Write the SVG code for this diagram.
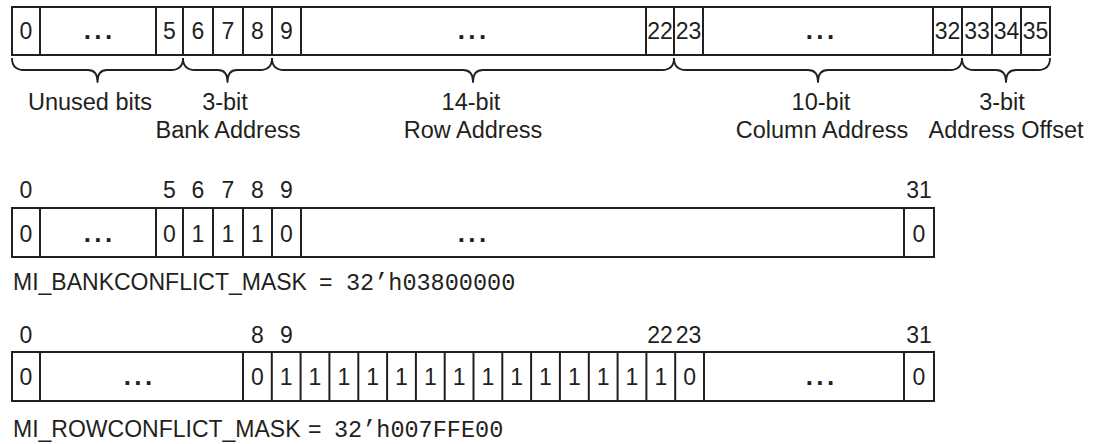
<svg xmlns="http://www.w3.org/2000/svg" width="1096" height="444" viewBox="0 0 1096 444">
<style>
.box{fill:#fff;stroke:#231f20;stroke-width:2}
.div{stroke:#231f20;stroke-width:2}
.brace{fill:none;stroke:#231f20;stroke-width:1.8;stroke-linejoin:round}
text{font-family:"Liberation Sans",Arial,sans-serif;fill:#231f20}
.c{font-size:23px;text-anchor:middle}
.d{font-size:26px;font-weight:bold;text-anchor:middle;letter-spacing:3.4px}
.l{font-size:23.5px;text-anchor:middle}
.m{font-size:23px}
.mono{font-family:"Liberation Mono","Courier New",monospace;font-size:23.5px}
</style>
<rect width="1096" height="444" fill="#fff"/>

<g id="address-register">
<rect class="box" x="12" y="7" width="1038" height="48"/>
<path class="div" d="M40 7V55M156 7V55M183 7V55M213 7V55M243 7V55M272 7V55M301 7V55M646 7V55M674 7V55M703 7V55M933 7V55M962 7V55M992 7V55M1021 7V55"/>
<text class="c" x="26" y="39">0</text>
<text class="d" x="99.7" y="39">...</text>
<text class="c" x="169.5" y="39">5</text>
<text class="c" x="198" y="39">6</text>
<text class="c" x="228" y="39">7</text>
<text class="c" x="257.5" y="39">8</text>
<text class="c" x="286.5" y="39">9</text>
<text class="d" x="473.7" y="39">...</text>
<text class="c" x="660" y="39">22</text>
<text class="c" x="688.5" y="39">23</text>
<text class="d" x="821.7" y="39">...</text>
<text class="c" x="947.5" y="39">32</text>
<text class="c" x="977" y="39">33</text>
<text class="c" x="1006.5" y="39">34</text>
<text class="c" x="1035.5" y="39">35</text>
</g>

<g id="braces">
<path class="brace" d="M12 58C12 66 16 70 24 70L88 70C94 70 97.5 74 97.5 82C97.5 74 101 70 107 70L171 70C179 70 183 66 183 58"/>
<path class="brace" d="M183 58C183 66 187 70 195 70L218 70C224 70 227.5 74 227.5 82C227.5 74 231 70 237 70L260 70C268 70 272 66 272 58"/>
<path class="brace" d="M272 58C272 66 276 70 284 70L463 70C469 70 473 74 473 82C473 74 477 70 483 70L662 70C670 70 674 66 674 58"/>
<path class="brace" d="M674 58C674 66 678 70 686 70L808 70C814 70 818 74 818 82C818 74 822 70 828 70L950 70C958 70 962 66 962 58"/>
<path class="brace" d="M962 58C962 66 966 70 974 70L996 70C1002 70 1006 74 1006 82C1006 74 1010 70 1016 70L1038 70C1046 70 1050 66 1050 58"/>
</g>

<g id="field-labels">
<text class="l" x="90" y="110">Unused bits</text>
<text class="l" x="225" y="110">3-bit</text>
<text class="l" x="228" y="138">Bank Address</text>
<text class="l" x="471" y="110">14-bit</text>
<text class="l" x="473" y="138">Row Address</text>
<text class="l" x="821" y="110">10-bit</text>
<text class="l" x="822" y="138">Column Address</text>
<text class="l" x="1002" y="110">3-bit</text>
<text class="l" x="1006" y="138">Address Offset</text>
</g>

<g id="bank-mask">
<text class="c" x="26" y="198">0</text>
<text class="c" x="169.5" y="198">5</text>
<text class="c" x="198" y="198">6</text>
<text class="c" x="228" y="198">7</text>
<text class="c" x="257.5" y="198">8</text>
<text class="c" x="286.5" y="198">9</text>
<text class="c" x="919" y="198">31</text>
<rect class="box" x="12" y="208" width="922" height="49"/>
<path class="div" d="M40 208V257M156 208V257M183 208V257M213 208V257M243 208V257M272 208V257M301 208V257M904 208V257"/>
<text class="c" x="26" y="242">0</text>
<text class="d" x="99.7" y="242">...</text>
<text class="c" x="169.5" y="242">0</text>
<text class="c" x="198" y="242">1</text>
<text class="c" x="228" y="242">1</text>
<text class="c" x="257.5" y="242">1</text>
<text class="c" x="286.5" y="242">0</text>
<text class="d" x="473.7" y="242">...</text>
<text class="c" x="919" y="242">0</text>
<text class="m" x="13" y="290">MI_BANKCONFLICT_MASK</text>
<text class="m" x="319" y="290">=</text>
<text class="mono" x="346" y="290">32’h03800000</text>
</g>

<g id="row-mask">
<text class="c" x="26" y="343">0</text>
<text class="c" x="257.5" y="343">8</text>
<text class="c" x="286.5" y="343">9</text>
<text class="c" x="660" y="343">22</text>
<text class="c" x="688.5" y="343">23</text>
<text class="c" x="919" y="343">31</text>
<rect class="box" x="12" y="352" width="922" height="49"/>
<path class="div" d="M40 352V401M243 352V401M271.8 352V401M300.6 352V401M329.4 352V401M358.3 352V401M387.1 352V401M415.9 352V401M444.7 352V401M473.5 352V401M502.3 352V401M531.1 352V401M559.9 352V401M588.8 352V401M617.6 352V401M646.4 352V401M675.2 352V401M704 352V401M904 352V401"/>
<text class="c" x="26" y="385">0</text>
<text class="d" x="139.7" y="385">...</text>
<text class="c" x="257.4" y="385">0</text>
<text class="c" x="286.2" y="385">1</text>
<text class="c" x="315" y="385">1</text>
<text class="c" x="343.9" y="385">1</text>
<text class="c" x="372.7" y="385">1</text>
<text class="c" x="401.5" y="385">1</text>
<text class="c" x="430.3" y="385">1</text>
<text class="c" x="459.1" y="385">1</text>
<text class="c" x="487.9" y="385">1</text>
<text class="c" x="516.7" y="385">1</text>
<text class="c" x="545.5" y="385">1</text>
<text class="c" x="574.4" y="385">1</text>
<text class="c" x="603.2" y="385">1</text>
<text class="c" x="632" y="385">1</text>
<text class="c" x="660.8" y="385">1</text>
<text class="c" x="689.6" y="385">0</text>
<text class="d" x="821.7" y="385">...</text>
<text class="c" x="919" y="385">0</text>
<text class="m" x="13" y="437">MI_ROWCONFLICT_MASK</text>
<text class="m" x="308" y="437">=</text>
<text class="mono" x="334" y="437">32’h007FFE00</text>
</g>
</svg>
